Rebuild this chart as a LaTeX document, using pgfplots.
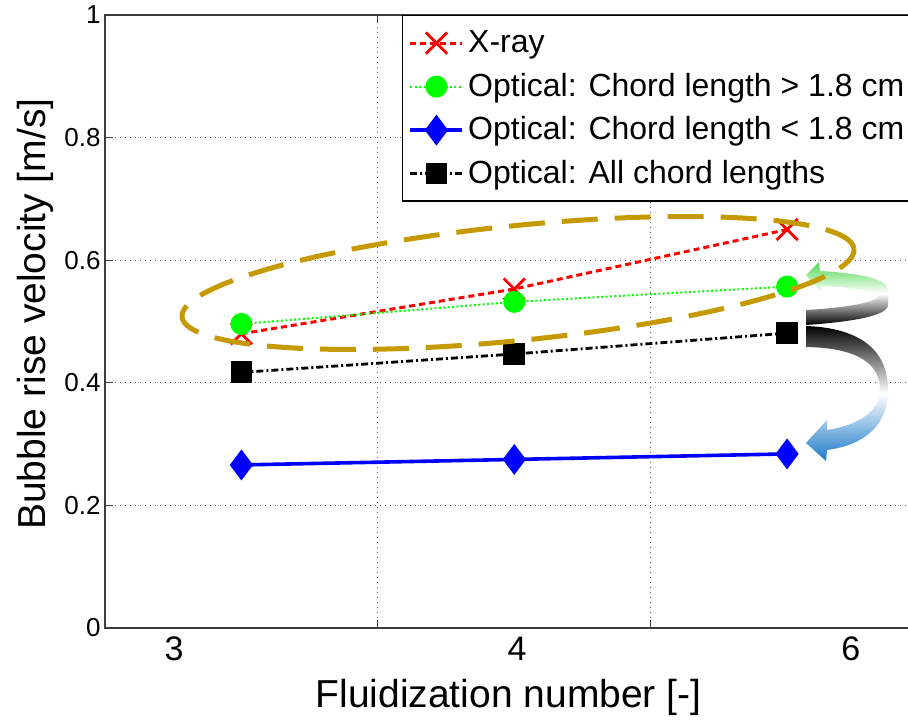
\documentclass[border=0pt]{standalone}
\usepackage{pgfplots}
\pgfplotsset{compat=1.18}
\usepackage{fontspec}
\setmainfont{Liberation Sans}

\definecolor{ellgold}{RGB}{196,154,0}
\definecolor{arrgreen}{RGB}{80,215,80}
\definecolor{arrblue}{RGB}{25,120,200}
\definecolor{axgray}{RGB}{60,60,60}
\definecolor{gridgray}{RGB}{90,90,90}

\begin{document}
\begin{tikzpicture}
\begin{scope}
\clip (0,0) rectangle (454pt,361.5pt);
\begin{axis}[
  at={(52.5pt,47.5pt)}, anchor=south west,
  scale only axis, width=409.25pt, height=306.5pt,
  xmin=0.5, xmax=3.5, ymin=0, ymax=1,
  xtick={1.5,2.5}, xticklabels={},
  extra x ticks={0.753,2.010,3.234}, extra x tick labels={3,4,6},
  extra x tick style={grid=none, tick style={draw=none},
    tick label style={font=\fontsize{17}{20}\selectfont, yshift=-1pt}},
  ytick={0,0.2,0.4,0.6,0.8,1}, yticklabels={0,0.2,0.4,0.6,0.8,1},
  yticklabel style={font=\fontsize{13}{15}\selectfont, xshift=1.3pt},
  grid=major,
  grid style={gridgray, line width=0.4pt, dash pattern=on 0.5pt off 2pt},
  tick align=inside, major tick length=4pt,
  tick style={axgray, line width=0.5pt},
  axis line style={axgray, line width=0.6pt},
  xlabel={Fluidization number [-]},
  xlabel style={font=\fontsize{19.5}{23}\selectfont, at={(rel axis cs:0.493,-0.1126)}, anchor=center},
  ylabel={Bubble rise velocity [m/s]},
  ylabel style={font=\fontsize{19.5}{23}\selectfont, at={(rel axis cs:-0.0855,0.512)}, anchor=center},
  legend style={at={(rel axis cs:0.3629,1)}, anchor=north west, draw=black, line width=0.6pt,
    fill=white, font=\fontsize{16}{19}\selectfont, inner sep=3pt, row sep=0.25pt,
    nodes={inner sep=2pt, text height=13.5pt, text depth=4pt}},
  legend cell align=left,
  legend image code/.code={\draw[mark repeat=2,mark phase=2,#1] plot coordinates {(0pt,0pt) (13pt,0pt) (26pt,0pt)};},
]
% X-ray
\addplot[red, line width=1.5pt, dash pattern=on 3pt off 2pt,
  mark=x, mark size=7.5pt, mark options={solid, line width=1.4pt}]
  coordinates {(1,0.480) (2,0.553) (3,0.650)};
\addlegendentry{X-ray}
% optical, long chords
\addplot[green, line width=1pt, dash pattern=on 1pt off 1.2pt,
  mark=*, mark size=5pt, mark options={solid}]
  coordinates {(1,0.496) (2,0.532) (3,0.557)};
\addlegendentry{Optical: Chord length > 1.8 cm}
% optical, short chords
\addplot[blue, line width=1.8pt, mark=diamond*, mark size=6.25pt, mark options={solid}]
  coordinates {(1,0.266) (2,0.275) (3,0.284)};
\addlegendentry{Optical: Chord length < 1.8 cm}
% optical, all
\addplot[black, line width=1.4pt, dash pattern=on 3.5pt off 1.5pt on 1pt off 1.5pt,
  mark=square*, mark size=4.75pt, mark options={solid}]
  coordinates {(1,0.417) (2,0.447) (3,0.481)};
\addlegendentry{Optical: All chord lengths}
\end{axis}

% annotations, in pixel units (y up)
\begin{scope}[x=0.5pt, y=0.5pt]
  \shade[top color=arrgreen, bottom color=black, middle color=white]
    (806,448) -- (819,461) -- (820,452)
    .. controls (855,450) and (888,445) .. (888,433)
    -- (888,418)
    .. controls (888,407) and (850,401) .. (806,398)
    -- (806,413)
    .. controls (845,415) and (878,421) .. (878,427)
    .. controls (878,432) and (850,436) .. (821,437)
    -- (822,430) -- cycle;
  \shade[top color=black, bottom color=arrblue, middle color=white]
    (806,397) .. controls (860,395) and (888,373) .. (888,333)
    .. controls (888,298) and (865,278) .. (827,273)
    -- (826,262) -- (806,280) -- (827,303) -- (827,293)
    .. controls (860,298) and (880,313) .. (880,333)
    .. controls (880,358) and (860,375) .. (806,376) -- cycle;
  \draw[ellgold, line width=2.5pt, dash pattern=on 18pt off 8.5pt,
    rotate around={5.78:(518,440)}] (518,440) ellipse [x radius=337.7, y radius=57.4];
\end{scope}
\end{scope}
\pgfresetboundingbox
\useasboundingbox (0,0) rectangle (454pt,361.5pt);
\end{tikzpicture}
\end{document}
